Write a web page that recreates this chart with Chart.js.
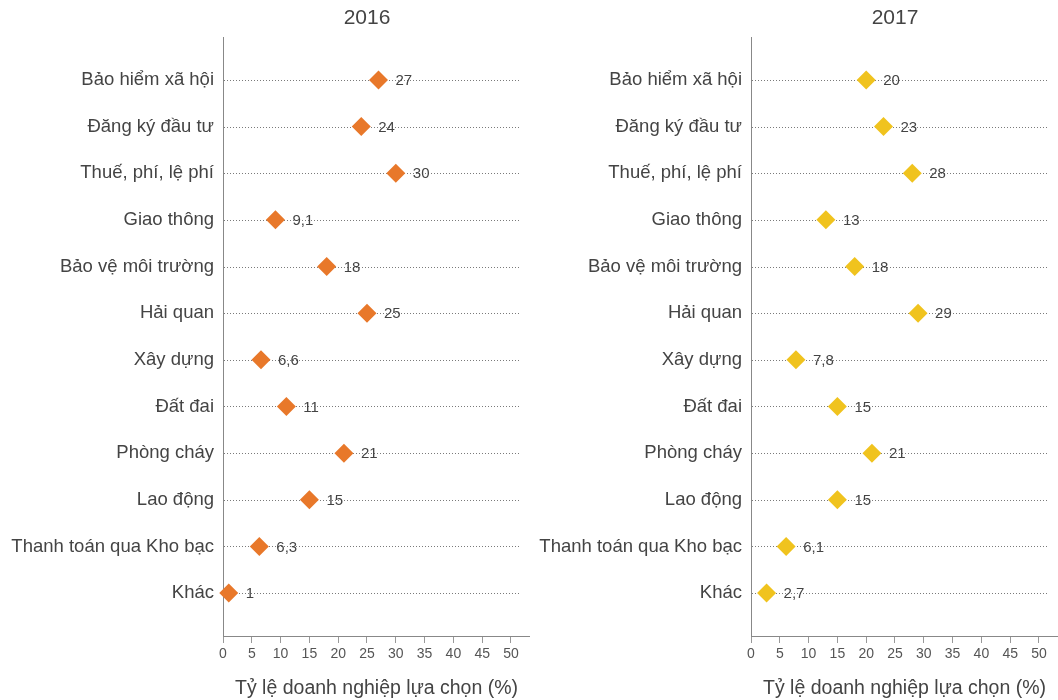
<!DOCTYPE html>
<html>
<head>
<meta charset="utf-8">
<script src="https://cdn.jsdelivr.net/npm/chart.js@4/dist/chart.umd.min.js"></script>
<style>
  html, body { margin: 0; padding: 0; background: #fff; }
  #wrap { position: relative; width: 1058px; height: 700px; }
  #c1 { position: absolute; left: 0; top: 0; }
  #c2 { position: absolute; left: 530px; top: 0; }
</style>
</head>
<body>
<div id="wrap">
  <canvas id="c1" width="530" height="700"></canvas>
  <canvas id="c2" width="528" height="700"></canvas>
</div>
<script>
const categories = [
  "Bảo hiểm xã hội",
  "Đăng ký đầu tư",
  "Thuế, phí, lệ phí",
  "Giao thông",
  "Bảo vệ môi trường",
  "Hải quan",
  "Xây dựng",
  "Đất đai",
  "Phòng cháy",
  "Lao động",
  "Thanh toán qua Kho bạc",
  "Khác"
];
const values2016 = [27, 24, 30, 9.1, 18, 25, 6.6, 11, 21, 15, 6.3, 1];
const values2017 = [20, 23, 28, 13, 18, 29, 7.8, 15, 21, 15, 6.1, 2.7];
const xTicks = [0, 5, 10, 15, 20, 25, 30, 35, 40, 45, 50];
const xTitle = "Tỷ lệ doanh nghiệp lựa chọn (%)";
const years = ["2016", "2017"];

const FONT = "'Liberation Sans', Arial, Helvetica, sans-serif";

function fmt(v) { return String(v).replace('.', ','); }

const decorPlugin = {
  id: 'decor',
  beforeDatasetsDraw(chart) {
    const ctx = chart.ctx;
    const xs = chart.scales.x, ys = chart.scales.y;
    ctx.save();
    ctx.strokeStyle = '#7a7a7a';
    ctx.lineWidth = 1;
    ctx.setLineDash([1, 2]);
    categories.forEach((c, i) => {
      const y = Math.round(ys.getPixelForValue(i)) + 0.5;
      ctx.beginPath();
      ctx.moveTo(xs.getPixelForValue(0) + 1, y);
      ctx.lineTo(xs.getPixelForValue(51.4), y);
      ctx.stroke();
    });
    ctx.restore();
  },
  afterDatasetsDraw(chart, args, opts) {
    const ctx = chart.ctx;
    const xs = chart.scales.x, ys = chart.scales.y;
    const vals = chart.data.datasets[0].data;
    ctx.save();
    ctx.font = "15px " + FONT;
    ctx.fillStyle = '#444';
    ctx.textAlign = 'left';
    ctx.textBaseline = 'middle';
    vals.forEach(p => {
      ctx.fillText(fmt(p.x), xs.getPixelForValue(p.x) + 17, ys.getPixelForValue(p.y) + 1);
    });
    ctx.font = "21px " + FONT;
    ctx.fillStyle = '#444';
    ctx.textAlign = 'center';
    ctx.fillText(opts.title, xs.getPixelForValue(25), 18);
    ctx.restore();
  }
};

function makeChart(id, values, color, yWidth, title) {
  return new Chart(document.getElementById(id), {
    type: 'scatter',
    data: {
      datasets: [{
        data: values.map((v, i) => ({ x: v, y: i })),
        pointStyle: 'rectRot',
        pointRadius: 9.5,
        pointHoverRadius: 9.5,
        backgroundColor: color,
        borderColor: color,
        borderWidth: 0,
        clip: false
      }]
    },
    options: {
      responsive: false,
      animation: false,
      devicePixelRatio: 1,
      layout: { autoPadding: false, padding: { top: 37, left: 0, right: 0, bottom: 0 } },
      plugins: {
        legend: { display: false },
        tooltip: { enabled: false },
        decor: { title: title }
      },
      scales: {
        x: {
          type: 'linear',
          min: 0,
          max: 53.3,
          afterBuildTicks: (s) => { s.ticks = xTicks.map(v => ({ value: v })); },
          afterFit: (s) => { s.height = 64; },
          ticks: {
            autoSkip: false,
            maxRotation: 0,
            padding: 3,
            color: '#555',
            font: { family: FONT, size: 14 },
            callback: (v) => String(v)
          },
          grid: { display: true, drawOnChartArea: false, drawTicks: true, tickLength: 7, color: '#999' },
          border: { display: true, color: '#888', width: 1 },
          title: {
            display: true,
            text: xTitle,
            color: '#444',
            font: { family: FONT, size: 19.5 },
            padding: { top: 0, bottom: 0 }
          }
        },
        y: {
          type: 'linear',
          reverse: true,
          min: -0.92,
          max: 11.92,
          afterBuildTicks: (s) => { s.ticks = categories.map((c, i) => ({ value: i })); },
          afterFit: (s) => { s.width = yWidth; },
          ticks: {
            autoSkip: false,
            padding: 9,
            color: '#444',
            font: { family: FONT, size: 18.5 },
            callback: (v) => categories[v]
          },
          grid: { display: true, drawOnChartArea: false, drawTicks: false },
          border: { display: true, color: '#888', width: 1 }
        }
      }
    },
    plugins: [decorPlugin]
  });
}

makeChart('c1', values2016, '#E8782A', 223, years[0]);
makeChart('c2', values2017, '#F0C31E', 221, years[1]);
</script>
</body>
</html>
